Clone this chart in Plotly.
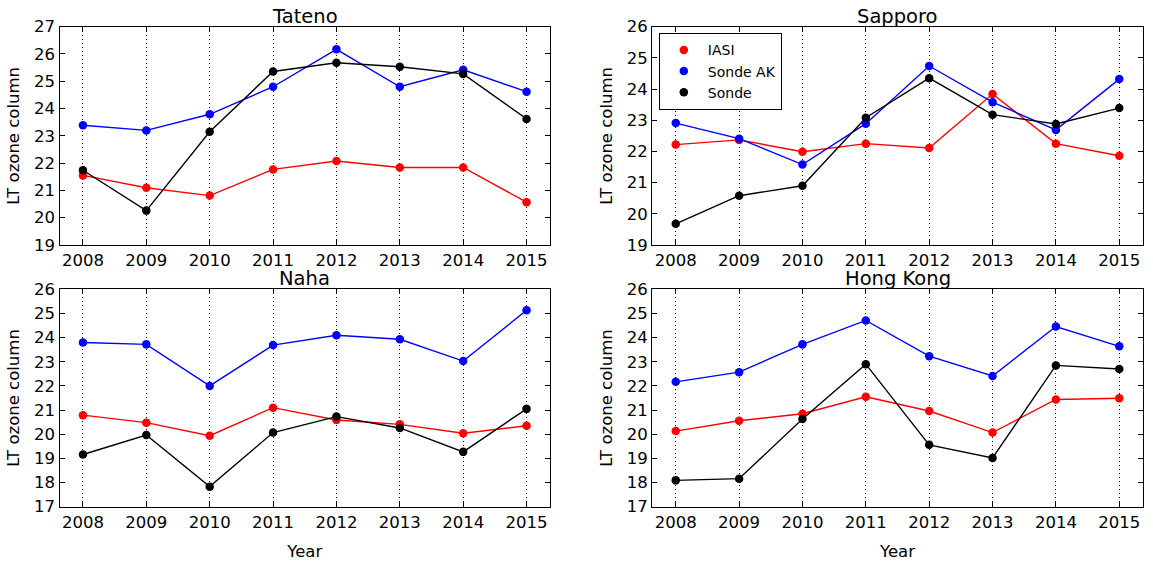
import plotly.graph_objects as go

years = [2008, 2009, 2010, 2011, 2012, 2013, 2014, 2015]
stations = ["Tateno", "Sapporo", "Naha", "Hong Kong"]

tateno_iasi = [21.55, 21.10, 20.81, 21.77, 22.08, 21.84, 21.84, 20.57]
tateno_ak = [23.39, 23.20, 23.79, 24.80, 26.17, 24.80, 25.42, 24.62]
tateno_sonde = [21.74, 20.26, 23.15, 25.36, 25.68, 25.53, 25.27, 23.62]

sapporo_iasi = [22.22, 22.37, 21.99, 22.25, 22.11, 23.84, 22.25, 21.86]
sapporo_ak = [22.91, 22.41, 21.58, 22.89, 24.74, 23.58, 22.69, 24.32]
sapporo_sonde = [19.68, 20.58, 20.90, 23.08, 24.35, 23.18, 22.88, 23.39]

naha_iasi = [20.79, 20.48, 19.94, 21.10, 20.59, 20.41, 20.04, 20.35]
naha_ak = [23.80, 23.72, 22.00, 23.69, 24.10, 23.93, 23.03, 25.13]
naha_sonde = [19.16, 19.97, 17.83, 20.07, 20.73, 20.26, 19.27, 21.05]

hk_iasi = [20.13, 20.56, 20.85, 21.55, 20.96, 20.07, 21.44, 21.49]
hk_ak = [22.17, 22.57, 23.72, 24.71, 23.23, 22.41, 24.46, 23.64]
hk_sonde = [18.09, 18.16, 20.63, 22.90, 19.56, 19.02, 22.85, 22.70]

series_names = ["IASI", "Sonde AK", "Sonde"]
colors = ["#ff0000", "#0000ff", "#000000"]
data = [
    [tateno_iasi, tateno_ak, tateno_sonde],
    [sapporo_iasi, sapporo_ak, sapporo_sonde],
    [naha_iasi, naha_ak, naha_sonde],
    [hk_iasi, hk_ak, hk_sonde],
]
y_ranges = [[19, 27], [19, 26], [17, 26], [17, 26]]

W, H = 1153, 563
x_doms = [[59.5 / W, 550 / W], [652.3 / W, 1142.7 / W]]
y_doms = [[1 - 245 / H, 1 - 26.7 / H], [1 - 506.7 / H, 1 - 289.3 / H]]

FONT = "DejaVu Sans"
fig = go.Figure()
layout = dict(
    width=W, height=H,
    margin=dict(l=0, r=0, t=0, b=0, autoexpand=False),
    paper_bgcolor="white", plot_bgcolor="white",
    font=dict(family=FONT, color="black", size=16),
    showlegend=True,
    legend=dict(
        x=658.5 / W, y=1 - 33 / H, xanchor="left", yanchor="top",
        bgcolor="white", bordercolor="black", borderwidth=1.3,
        font=dict(family=FONT, size=14, color="black"),
        itemwidth=38, tracegroupgap=0,
    ),
    annotations=[],
)

for i, st in enumerate(stations):
    row, col = divmod(i, 2)
    ax = "" if i == 0 else str(i + 1)
    xa = "x" + ax
    ya = "y" + ax
    for j, name in enumerate(series_names):
        fig.add_trace(go.Scatter(
            x=years, y=data[i][j], mode="lines",
            line=dict(color=colors[j], width=1.4),
            xaxis=xa, yaxis=ya, showlegend=False, hoverinfo="skip",
        ))
    for j, name in enumerate(series_names):
        fig.add_trace(go.Scatter(
            x=years, y=data[i][j], mode="markers", name=name,
            marker=dict(color=colors[j], size=8.5, line=dict(width=0)),
            xaxis=xa, yaxis=ya, showlegend=(i == 1),
        ))
    layout["xaxis" + ax] = dict(
        domain=x_doms[col], anchor=ya, range=[2007.63, 2015.37],
        tickmode="array", tickvals=years, ticktext=[str(y) for y in years],
        ticks="inside", ticklen=5, tickcolor="black",
        showline=True, linecolor="black", linewidth=1.3, mirror="ticks",
        showgrid=True, gridcolor="black", griddash="1px,3px", gridwidth=1,
        zeroline=False, tickfont=dict(size=16.5), automargin=False,
        title=dict(text="Year" if row == 1 else "", font=dict(size=16.5), standoff=14),
    )
    layout["yaxis" + ax] = dict(
        domain=y_doms[row], anchor=xa, range=y_ranges[i], dtick=1,
        ticks="inside", ticklen=5, tickcolor="black",
        showline=True, linecolor="black", linewidth=1.3, mirror="ticks",
        showgrid=False, zeroline=False, tickfont=dict(size=16.5), automargin=False,
        title=dict(text="LT ozone column", font=dict(size=16.5), standoff=10),
    )
    layout["annotations"].append(dict(
        text=st, xref="paper", yref="paper",
        x=(x_doms[col][0] + x_doms[col][1]) / 2, y=y_doms[row][1],
        xanchor="center", yanchor="bottom", yshift=-3, showarrow=False,
        font=dict(family=FONT, size=19.5, color="black"),
    ))

fig.update_layout(**layout)
fig.write_html(
    "out.html",
    config={"displayModeBar": False},
    post_script="document.body.style.margin='0';document.body.style.overflow='hidden';",
)
